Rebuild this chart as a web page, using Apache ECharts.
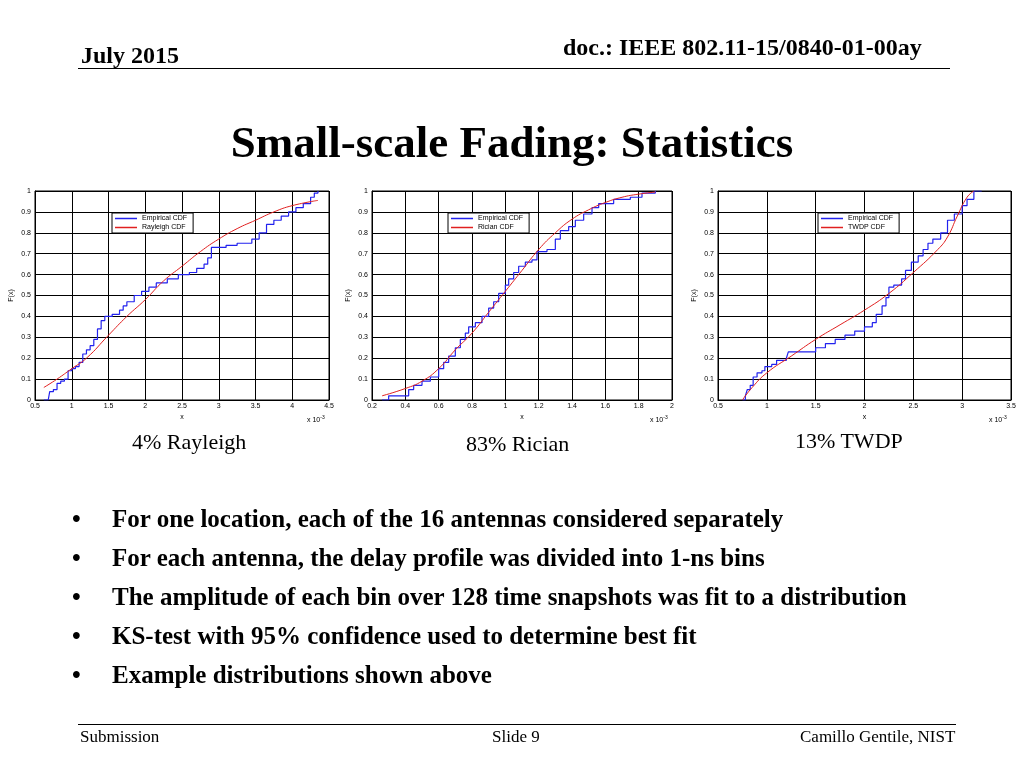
<!DOCTYPE html>
<html>
<head>
<meta charset="utf-8">
<script src="https://cdn.jsdelivr.net/npm/echarts@6/dist/echarts.min.js"></script>
<style>
  body { margin: 0; width: 1024px; height: 768px; position: relative; background: #fff; font-family: "Liberation Serif", serif; overflow: hidden; }
  .t { position: absolute; white-space: nowrap; color: #000; }
  .b { font-weight: bold; }
  #chart { position: absolute; left: 0; top: 0; width: 1024px; height: 768px; }
</style>
</head>
<body>
<div id="chart"></div>
<div class="t b" style="left:563px;top:34px;font-size:24px;">doc.: IEEE 802.11-15/0840-01-00ay</div>
<div class="t b" style="left:81px;top:42px;font-size:24px;">July 2015</div>
<div style="position:absolute;left:78px;top:68px;width:872px;height:1px;background:#000;"></div>
<div class="t b" style="left:0;width:1024px;text-align:center;top:116px;font-size:45px;">Small-scale Fading: Statistics</div>
<div class="t" style="left:132px;top:429px;font-size:22px;">4% Rayleigh</div>
<div class="t" style="left:466px;top:431px;font-size:22px;">83% Rician</div>
<div class="t" style="left:795px;top:428px;font-size:22px;">13% TWDP</div>
<div class="t b" style="left:72px;top:499px;font-size:25px;line-height:39px;">
  <div><span style="display:inline-block;width:40px;">•</span>For one location, each of the 16 antennas considered separately</div>
  <div><span style="display:inline-block;width:40px;">•</span>For each antenna, the delay profile was divided into 1-ns bins</div>
  <div><span style="display:inline-block;width:40px;">•</span>The amplitude of each bin over 128 time snapshots was fit to a distribution</div>
  <div><span style="display:inline-block;width:40px;">•</span>KS-test with 95% confidence used to determine best fit</div>
  <div><span style="display:inline-block;width:40px;">•</span>Example distributions shown above</div>
</div>
<div style="position:absolute;left:78px;top:724px;width:878px;height:1px;background:#000;"></div>
<div class="t" style="left:80px;top:727px;font-size:17px;">Submission</div>
<div class="t" style="left:492px;top:727px;font-size:17px;">Slide 9</div>
<div class="t" style="left:800px;top:727px;font-size:17px;">Camillo Gentile, NIST</div>
<script>
// x values in units of 1e-3
var empRayleigh = [[0.62,0],[0.68,0],[0.7,0.04],[0.75,0.05],[0.8,0.08],[0.85,0.09],[0.9,0.1],[0.95,0.14],[1.0,0.15],[1.05,0.16],[1.1,0.18],[1.15,0.22],[1.2,0.24],[1.25,0.26],[1.3,0.29],[1.35,0.34],[1.4,0.38],[1.45,0.4],[1.55,0.41],[1.65,0.43],[1.7,0.45],[1.75,0.47],[1.85,0.5],[1.95,0.52],[2.05,0.54],[2.15,0.56],[2.3,0.58],[2.45,0.6],[2.6,0.61],[2.7,0.63],[2.8,0.65],[2.85,0.68],[2.9,0.73],[3.0,0.73],[3.1,0.74],[3.25,0.75],[3.45,0.77],[3.55,0.8],[3.65,0.84],[3.75,0.86],[3.85,0.88],[3.95,0.9],[4.05,0.92],[4.15,0.94],[4.25,0.97],[4.3,0.99],[4.35,1]];
var fitRayleigh = [[0.62,0.06],[0.8,0.1],[1.0,0.15],[1.2,0.2],[1.5,0.31],[1.75,0.4],[2.0,0.48],[2.25,0.57],[2.5,0.64],[2.75,0.71],[3.0,0.77],[3.25,0.82],[3.5,0.86],[3.75,0.9],[4.0,0.93],[4.35,0.955]];
var empRician = [[0.26,0],[0.3,0.02],[0.4,0.02],[0.42,0.05],[0.45,0.07],[0.5,0.09],[0.55,0.11],[0.6,0.15],[0.63,0.18],[0.66,0.21],[0.7,0.25],[0.73,0.29],[0.76,0.32],[0.78,0.35],[0.82,0.37],[0.86,0.4],[0.9,0.44],[0.93,0.47],[0.96,0.51],[1.0,0.55],[1.02,0.58],[1.05,0.61],[1.08,0.64],[1.12,0.66],[1.16,0.67],[1.19,0.71],[1.25,0.72],[1.3,0.77],[1.33,0.81],[1.38,0.83],[1.42,0.86],[1.47,0.89],[1.52,0.92],[1.56,0.94],[1.65,0.96],[1.75,0.97],[1.82,0.99],[1.9,1]];
var fitRician = [[0.26,0.02],[0.4,0.055],[0.5,0.09],[0.6,0.15],[0.7,0.24],[0.8,0.32],[0.9,0.42],[1.0,0.52],[1.1,0.62],[1.2,0.72],[1.3,0.8],[1.4,0.865],[1.5,0.91],[1.6,0.945],[1.7,0.97],[1.8,0.985],[1.9,0.995]];
var empTwdp = [[0.75,0],[0.78,0.02],[0.8,0.05],[0.83,0.07],[0.86,0.11],[0.9,0.13],[0.95,0.14],[0.98,0.16],[1.05,0.17],[1.1,0.19],[1.2,0.2],[1.22,0.23],[1.4,0.23],[1.5,0.25],[1.6,0.27],[1.7,0.29],[1.8,0.31],[1.9,0.33],[2.0,0.35],[2.08,0.37],[2.12,0.41],[2.18,0.45],[2.22,0.49],[2.25,0.54],[2.3,0.55],[2.38,0.58],[2.42,0.62],[2.48,0.66],[2.55,0.69],[2.6,0.72],[2.65,0.75],[2.7,0.77],[2.78,0.8],[2.85,0.86],[2.92,0.89],[3.0,0.93],[3.05,0.96],[3.12,1],[3.2,1]];
var fitTwdp = [[0.75,0],[0.85,0.06],[1.0,0.13],[1.25,0.21],[1.5,0.29],[1.75,0.36],[2.0,0.43],[2.25,0.51],[2.5,0.61],[2.75,0.72],[2.85,0.78],[2.95,0.88],[3.05,0.97],[3.12,1]];
var fitNames = ['Rayleigh CDF', 'Rician CDF', 'TWDP CDF'];
var xRanges = [[0.5, 4.5, 0.5], [0.2, 2, 0.2], [0.5, 3.5, 0.5]];

var grids = [{ left: 35, top: 191, width: 294, height: 209 },
             { left: 372, top: 191, width: 300, height: 209 },
             { left: 718, top: 191, width: 293, height: 209 }];
var legendPos = [[112, 213], [448, 213], [818, 213]];
var emp = [empRayleigh, empRician, empTwdp];
var fit = [fitRayleigh, fitRician, fitTwdp];
var blue = '#2222ee', red = '#e02020';

var lab = { fontSize: 7, color: '#000', fontFamily: 'Liberation Sans' };
var gl = { show: true, lineStyle: { color: '#000', width: 1 } };
var option = { animation: false, grid: [], xAxis: [], yAxis: [], series: [], legend: [], graphic: [] };
grids.forEach(function (g, i) {
  option.grid.push(Object.assign({ show: true, borderColor: '#000', borderWidth: 1 }, g));
  option.xAxis.push({ type: 'value', gridIndex: i, min: xRanges[i][0], max: xRanges[i][1], interval: xRanges[i][2],
    name: 'x', nameLocation: 'middle', nameGap: 14, nameTextStyle: lab,
    axisLabel: Object.assign({ margin: 3 }, lab), axisLine: { lineStyle: { color: '#000' } },
    axisTick: { inside: true, length: 3 }, splitLine: gl });
  option.yAxis.push({ type: 'value', gridIndex: i, min: 0, max: 1, interval: 0.1,
    name: 'F(x)', nameLocation: 'middle', nameGap: 20, nameTextStyle: lab,
    axisLabel: Object.assign({ margin: 4 }, lab), axisLine: { lineStyle: { color: '#000' } },
    axisTick: { inside: true, length: 3 }, splitLine: gl });
  option.series.push({ name: 'Empirical CDF', type: 'line', step: 'end', xAxisIndex: i, yAxisIndex: i,
    data: emp[i], symbol: 'none', lineStyle: { color: blue, width: 1.2 }, itemStyle: { color: blue } });
  option.series.push({ name: fitNames[i], type: 'line', smooth: true, xAxisIndex: i, yAxisIndex: i,
    data: fit[i], symbol: 'none', lineStyle: { color: red, width: 1 }, itemStyle: { color: red } });
  option.legend.push({
    data: [{ name: 'Empirical CDF', itemStyle: { color: blue } }, { name: fitNames[i], itemStyle: { color: red } }],
    orient: 'vertical', left: legendPos[i][0], top: legendPos[i][1], backgroundColor: '#fff', borderColor: '#000', borderWidth: 1,
    padding: [2, 6, 2, 3], itemGap: 2, itemWidth: 22, itemHeight: 8, icon: 'rect',
    itemStyle: { borderWidth: 0 }, lineStyle: { width: 0 },
    textStyle: { fontSize: 7, color: '#000', fontFamily: 'Liberation Sans' }, selectedMode: false });
  option.graphic.push({ type: 'text', left: g.left + g.width - 22, top: 415,
    style: { text: 'x 10{s|-3}', fontSize: 7, fill: '#000', fontFamily: 'Liberation Sans',
      rich: { s: { fontSize: 5, verticalAlign: 'top', padding: [0, 0, 5, 0] } } } });
});
// legend icons as thin line samples
option.legend.forEach(function (l) { l.itemHeight = 1.5; });
echarts.init(document.getElementById('chart')).setOption(option);
</script>
</body>
</html>
